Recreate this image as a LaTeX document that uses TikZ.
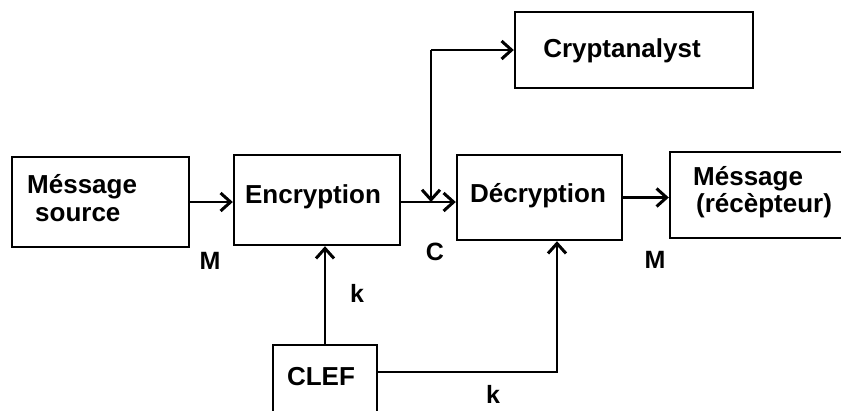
\documentclass[tikz,border=0pt]{standalone}
\usepackage{fontspec}
\setmainfont{Liberation Sans}
\usetikzlibrary{arrows.meta}
\begin{document}
\begin{tikzpicture}[x=1pt,y=-1pt,
  box/.style={draw,line width=2.4pt,inner sep=0pt,minimum width=#1},
  txt/.style={inner sep=0pt,anchor=base,font=\fontsize{26}{28}\selectfont\bfseries},
  lbl/.style={inner sep=0pt,anchor=base,font=\fontsize{25}{28}\selectfont\bfseries},
  arr/.style={line width=2.2pt,-{Straight Barb[length=10pt,width=18pt,line width=3pt]}},
  wire/.style={line width=2.2pt}]
\useasboundingbox (0,0) rectangle (841,410);
\clip (0,0) rectangle (841,410);

% blocks
\node[box=177pt,minimum height=90pt] (src)   at (100.5,202) {};
\node[box=166pt,minimum height=90pt] (enc)   at (317,200) {};
\node[box=165pt,minimum height=85pt] (dec)   at (539.5,197.5) {};
\node[box=190pt,minimum height=86pt] (recv)  at (765,195) {};
\node[box=238pt,minimum height=76pt] (crypt) at (634,50) {};
\node[box=104pt,minimum height=90pt] (clef)  at (325,390) {};

% block captions
\node[txt,anchor=base west] (srcA) at (27,193) {Méssage};
\node[txt,anchor=base west] (srcB) at (35,221) {source};
\node[txt] (encT)   at (313,203) {Encryption};
\node[txt] (decT)   at (538,202) {Décryption};
\node[txt] (cryT)   at (622,57)  {Cryptanalyst};
\node[txt,anchor=base west] (rcvA) at (693,185) {Méssage};
\node[txt,anchor=base west] (rcvB) at (696,212) {(récèpteur)};
\node[txt] (clefT)  at (321,385) {CLEF};

% junction points
\coordinate (jc) at (431,202);
\coordinate (kc) at (557,372);

% signal path
\draw[arr] (src.east) -- (src.east -| enc.west);
\draw[arr] (enc.east |- jc) -- (jc -| dec.west);
\draw[arr] (jc |- crypt.west) -- (jc);
\draw[arr] (jc |- crypt.west) -- (crypt.west);
\draw[arr] (dec.east) -- (dec.east -| recv.west);

% key distribution
\draw[arr] (clef.north) -- (clef.north |- enc.south);
\draw[arr] (clef.east |- kc) -- (kc) -- (kc |- dec.south);

% line labels
\node[lbl] (m1) at (210,269) {M};
\node[lbl] (c1) at (435,260) {C};
\node[lbl] (m2) at (655,268) {M};
\node[lbl] (k1) at (357,302) {k};
\node[lbl] (k2) at (493,403) {k};
\end{tikzpicture}
\end{document}
